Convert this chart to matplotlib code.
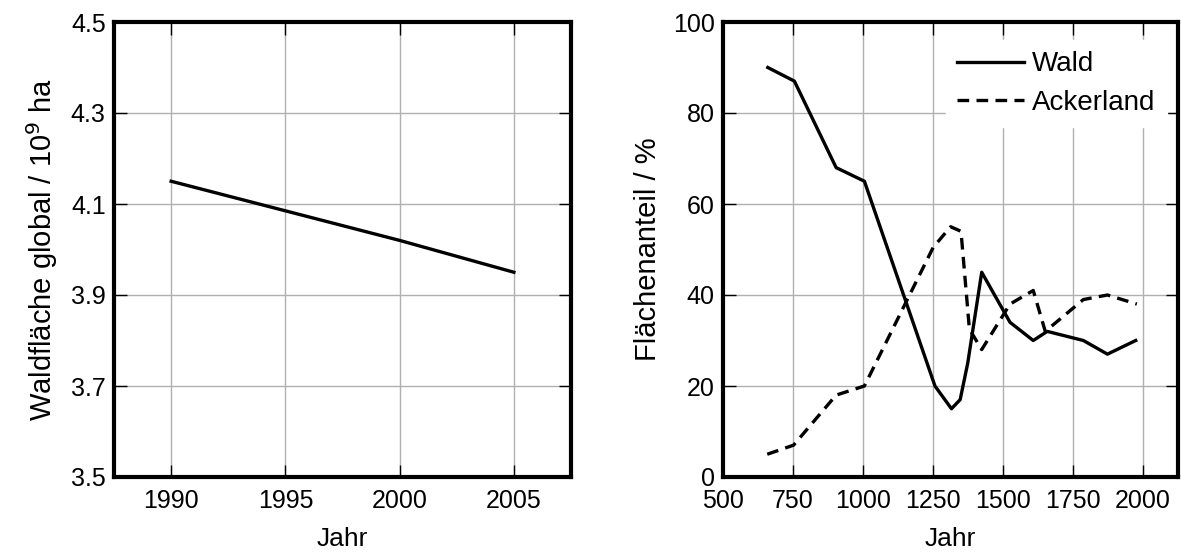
import matplotlib
matplotlib.use('Agg')
import matplotlib.pyplot as plt

plt.rcParams['font.family'] = ['Liberation Sans', 'DejaVu Sans']
plt.rcParams['font.size'] = 18

# left panel: global forest area
jahre_global = [1990, 2000, 2005]
wald_global = [4.15, 4.02, 3.95]

# right panel: share of land area
jahre_wald = [660, 755, 904, 1005, 1257, 1316, 1347, 1374, 1424, 1525, 1608, 1658, 1787, 1873, 1974]
wald = [90, 87, 68, 65, 20, 15, 17, 25, 45, 34, 30, 32, 30, 27, 30]
jahre_acker = [658, 752, 904, 1005, 1251, 1313, 1350, 1380, 1424, 1525, 1608, 1651, 1787, 1873, 1978]
acker = [5, 7, 18, 20, 50.5, 55, 54, 32.5, 28, 38, 41, 32, 39, 40, 38]

fig = plt.figure(figsize=(11.81, 5.54), dpi=100)
W, H = 1181, 554
ax1 = fig.add_axes([114 / W, 1 - 477 / H, (571 - 114) / W, (477 - 22) / H])
ax2 = fig.add_axes([723 / W, 1 - 477 / H, (1178 - 723) / W, (477 - 22) / H])


def style(ax):
    ax.grid(True, color='#b0b0b0', linewidth=1.0)
    ax.set_axisbelow(True)
    for s in ax.spines.values():
        s.set_linewidth(3)
    ax.tick_params(direction='in', length=9, width=1, top=True, right=True,
                   labelsize=18)
    ax.tick_params(axis='x', pad=9)
    ax.tick_params(axis='y', pad=6)


ax1.plot(jahre_global, wald_global, color='black', linewidth=2.4)
ax1.set_xlim(1987.5, 2007.5)
ax1.set_ylim(3.5, 4.5)
ax1.set_xticks([1990, 1995, 2000, 2005])
ax1.set_yticks([3.5, 3.7, 3.9, 4.1, 4.3, 4.5])
ax1.set_yticklabels(['3.5', '3.7', '3.9', '4.1', '4.3', '4.5'])
ax1.set_xlabel('Jahr', fontsize=19, labelpad=10)
ax1.set_ylabel('Waldfläche global / 10$^9$ ha', fontsize=21, labelpad=8)
style(ax1)

ax2.plot(jahre_wald, wald, color='black', linewidth=2.4, label='Wald')
ax2.plot(jahre_acker, acker, color='black', linewidth=2.4, linestyle=(0, (3.5, 2.2)),
         label='Ackerland')
ax2.set_xlim(500, 2125)
ax2.set_ylim(0, 100)
ax2.set_xticks([500, 750, 1000, 1250, 1500, 1750, 2000])
ax2.set_yticks([0, 20, 40, 60, 80, 100])
ax2.set_xlabel('Jahr', fontsize=19, labelpad=10)
ax2.set_ylabel('Flächenanteil / %', fontsize=21, labelpad=8)
style(ax2)
leg = ax2.legend(loc='upper right', bbox_to_anchor=(0.975, 0.96), frameon=True,
                 fancybox=False, fontsize=20, handlelength=2.4, handletextpad=0.3,
                 labelspacing=0.45, borderaxespad=0.0)
leg.get_frame().set_edgecolor('white')
leg.get_frame().set_facecolor('white')
leg.get_frame().set_alpha(1.0)

fig.savefig('out.png', dpi=100)
